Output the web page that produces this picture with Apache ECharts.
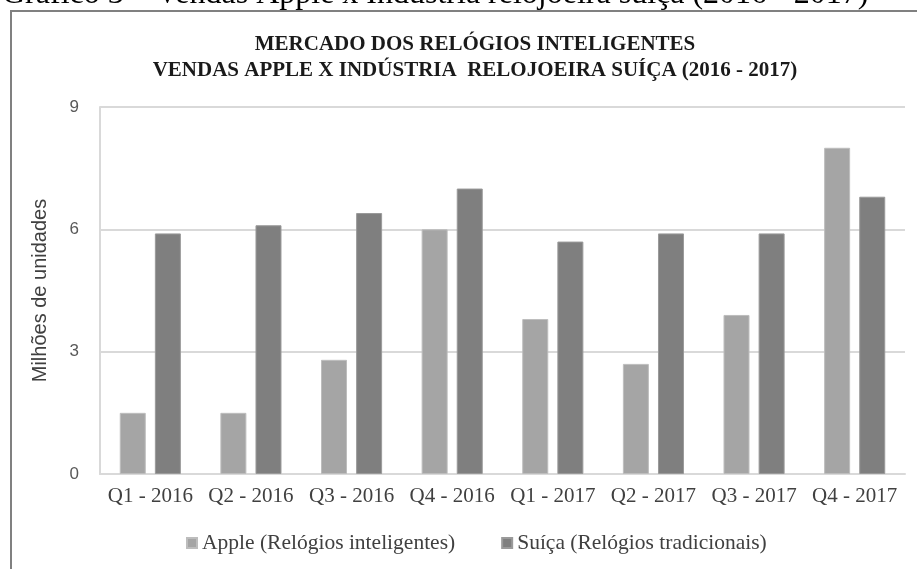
<!DOCTYPE html>
<html>
<head>
<meta charset="utf-8">
<script src="https://cdn.jsdelivr.net/npm/echarts@6/dist/echarts.min.js"></script>
<style>
  html, body { margin: 0; padding: 0; background: #fff; }
  #chart { width: 917px; height: 569px; }
</style>
</head>
<body>
<div id="chart"></div>
<script>
const quarters = ["Q1 - 2016", "Q2 - 2016", "Q3 - 2016", "Q4 - 2016", "Q1 - 2017", "Q2 - 2017", "Q3 - 2017", "Q4 - 2017"];
const apple = [1.5, 1.5, 2.8, 6.0, 3.8, 2.7, 3.9, 8.0];
const suica = [5.9, 6.1, 6.4, 7.0, 5.7, 5.9, 5.9, 6.8];
const yTicks = [0, 3, 6, 9];

const serif = "Liberation Serif";
const sans = "Liberation Sans";

const chart = echarts.init(document.getElementById("chart"));
chart.setOption({
  animation: false,
  backgroundColor: "#fff",
  title: {
    text: "MERCADO DOS RELÓGIOS INTELIGENTES\nVENDAS APPLE X INDÚSTRIA  RELOJOEIRA SUÍÇA (2016 - 2017)",
    left: 470,
    top: 27,
    textAlign: "center",
    textStyle: {
      fontFamily: serif,
      fontWeight: "bold",
      fontSize: 21,
      lineHeight: 26,
      color: "#1a1a1a",
    },
  },
  graphic: [
    {
      type: "text",
      left: 2,
      top: -21,
      style: {
        text: "Gráfico 3 – Vendas Apple x Indústria relojoeira suíça (2016 - 2017)",
        font: "32px 'Liberation Serif'",
        fill: "#000",
      },
    },
    {
      type: "polyline",
      shape: { points: [[11, 569], [11, 11], [917, 11]] },
      style: { stroke: "#808080", lineWidth: 2, fill: null },
    },
  ],
  legend: {
    bottom: 10,
    left: 181,
    itemWidth: 10,
    itemHeight: 10,
    itemGap: 46,
    icon: "rect",
    textStyle: { fontFamily: serif, fontSize: 21.5, color: "#404040" },
    data: ["Apple (Relógios inteligentes)", "Suíça (Relógios tradicionais)"],
  },
  grid: { left: 100, right: 12, top: 107, bottom: 95 },
  xAxis: {
    type: "category",
    data: quarters,
    axisTick: { show: false },
    axisLine: { lineStyle: { color: "#d9d9d9", width: 2 } },
    axisLabel: { interval: 0, fontFamily: serif, fontSize: 21, color: "#404040", margin: 12 },
  },
  yAxis: {
    type: "value",
    min: yTicks[0],
    max: yTicks[yTicks.length - 1],
    interval: 3,
    name: "Milhões de unidades",
    nameLocation: "middle",
    nameGap: 50,
    nameTextStyle: { fontFamily: sans, fontSize: 20, color: "#404040" },
    axisLine: { show: true, lineStyle: { color: "#d9d9d9", width: 2 } },
    axisTick: { show: false },
    splitLine: { lineStyle: { color: "#d9d9d9", width: 2 } },
    axisLabel: { fontFamily: sans, fontSize: 17, color: "#595959", margin: 21 },
  },
  series: [
    {
      name: "Apple (Relógios inteligentes)",
      type: "bar",
      data: apple,
      barWidth: 26,
      barGap: "35%",
      itemStyle: { color: "#a5a5a5", borderColor: "#bdbdbd", borderWidth: 1 },
    },
    {
      name: "Suíça (Relógios tradicionais)",
      type: "bar",
      data: suica,
      barWidth: 26,
      itemStyle: { color: "#7f7f7f", borderColor: "#9a9a9a", borderWidth: 1 },
    },
  ],
});
</script>
</body>
</html>
